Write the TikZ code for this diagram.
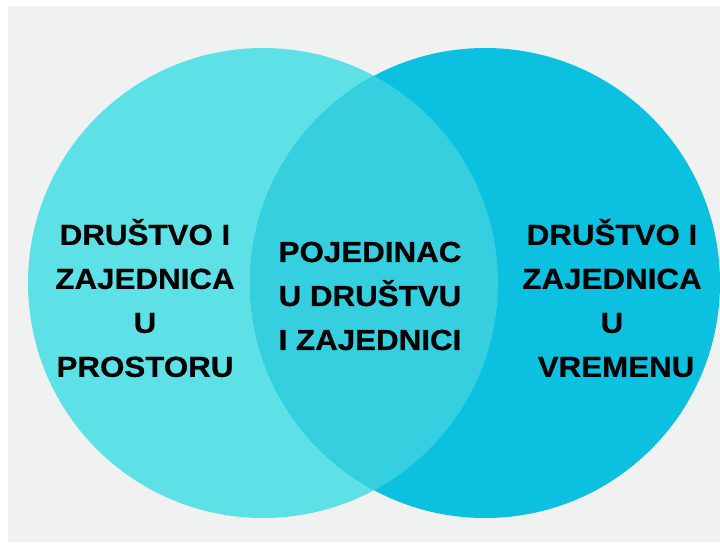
\documentclass[tikz,border=0pt]{standalone}
\usepackage{fontspec}
\setmainfont{Liberation Sans}
\newfontfamily\vennfont[FakeStretch=1.08,FakeBold=0.6]{Liberation Sans Bold}
\definecolor{bggray}{HTML}{F0F2F2}
\definecolor{leftcyan}{HTML}{5EE1E6}
\definecolor{rightcyan}{HTML}{0CC0DF}
\definecolor{midcyan}{HTML}{35CFE0}
\tikzset{venntext/.style={align=center,inner sep=0pt,font=\vennfont\fontsize{29}{44}\selectfont}}

\begin{document}
\begin{tikzpicture}[x=1pt,y=-1pt]

	\useasboundingbox (0,0) rectangle (720,542);
	\fill[bggray] (8,6) rectangle (720,542);
	\clip (8,6) rectangle (720,542);
	\coordinate (l) at (263,283);
	\coordinate (r) at (485,283);
	\fill[leftcyan] (l) circle (235pt);
	\fill[rightcyan] (r) circle (235pt);
	\begin{scope}
		\clip (l) circle (235pt);
		\fill[midcyan] (r) circle (235pt);
	\end{scope}
	\node[venntext] (prostor) at (145,298) {DRUŠTVO I\\ZAJEDNICA\\U\\PROSTORU};
	\node[venntext] (pojedinac) at (370,296) {POJEDINAC\\U DRUŠTVU\\I ZAJEDNICI};
	\node[venntext] (vrijeme) at (612,298) {DRUŠTVO I\\ZAJEDNICA\\U\\\hspace{8pt}VREMENU};

\end{tikzpicture}
\end{document}
